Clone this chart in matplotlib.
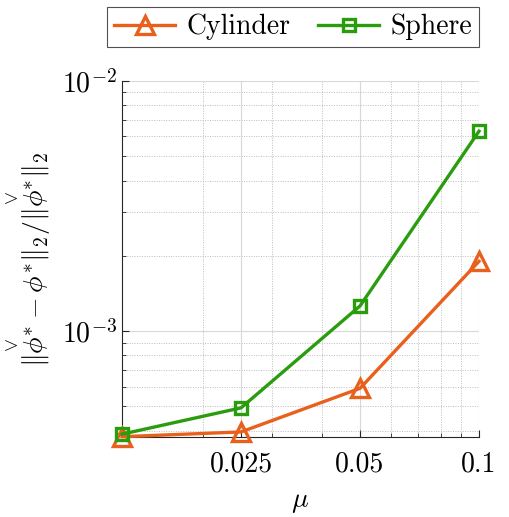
import numpy as np
import matplotlib
matplotlib.use("Agg")
import matplotlib.pyplot as plt
from matplotlib.ticker import FixedLocator, FixedFormatter, LogLocator, NullFormatter

plt.rcParams['font.family'] = 'serif'
plt.rcParams['font.serif'] = ['cmr10']
plt.rcParams['mathtext.fontset'] = 'cm'
plt.rcParams['axes.formatter.use_mathtext'] = True

# data
mu = [0.0125, 0.025, 0.05, 0.1]
cylinder = [3.78e-4, 3.95e-4, 5.9e-4, 1.9e-3]
sphere = [3.87e-4, 4.93e-4, 1.26e-3, 6.3e-3]
xticks = [0.025, 0.05, 0.1]
xtick_labels = ['0.025', '0.05', '0.1']

orange = '#E8601C'
green = '#2A9D0F'

fig = plt.figure(figsize=(5.1, 5.17), dpi=100)
ax = fig.add_axes([122 / 510, 1 - 437 / 517, 357 / 510, 356 / 517])

ax.plot(mu, cylinder, '-^', color=orange, lw=2.4, ms=13, mew=2.4,
        mfc='none', label='Cylinder', clip_on=False, zorder=3)
ax.plot(mu, sphere, '-s', color=green, lw=2.4, ms=9, mew=2.4,
        mfc='none', label='Sphere', clip_on=False, zorder=4)

ax.set_xscale('log')
ax.set_yscale('log')
ax.set_xlim(0.0125, 0.1)
ax.set_ylim(3.77e-4, 1e-2)

ax.xaxis.set_major_locator(FixedLocator(xticks))
ax.xaxis.set_major_formatter(FixedFormatter(xtick_labels))
ax.xaxis.set_minor_locator(FixedLocator([0.02, 0.03, 0.04, 0.06, 0.07, 0.08, 0.09]))
ax.xaxis.set_minor_formatter(NullFormatter())
ax.yaxis.set_major_locator(LogLocator(base=10, numticks=10))
ax.yaxis.set_minor_locator(LogLocator(base=10, subs=np.arange(2, 10), numticks=20))
ax.yaxis.set_minor_formatter(NullFormatter())

ax.grid(True, which='major', color='#d8d8d8', lw=0.8, ls='-')
ax.grid(True, which='minor', color='#bdbdbd', lw=0.7, ls=(0, (1, 1.5)))
ax.set_axisbelow(True)

for s in ['top', 'right']:
    ax.spines[s].set_visible(False)
for s in ['left', 'bottom']:
    ax.spines[s].set_color('#262626')
    ax.spines[s].set_linewidth(0.8)

ax.tick_params(which='both', direction='in', colors='#262626', labelsize=20,
               labelcolor='black')
ax.tick_params(which='major', length=5)
ax.tick_params(which='minor', length=3)
ax.tick_params(axis='x', pad=10)

ax.set_xlabel(r'$\mu$', fontsize=20, labelpad=8)
# \check is misplaced in mathtext's cm fontset, so build the accent by hand
chk = r'\overset{\vee}{\phi}'
ax.set_ylabel(r'$\Vert' + chk + r'^{*}-\phi^{*}\Vert_2/\Vert' + chk + r'^{*}\Vert_2$',
              fontsize=20, labelpad=6)

leg = fig.legend(loc='center', bbox_to_anchor=(293 / 510, 1 - 27 / 517), ncol=2,
                 fontsize=20, frameon=True, fancybox=False, edgecolor='#262626',
                 handlelength=2.2, columnspacing=1.0, handletextpad=0.4,
                 borderpad=0.25)
leg.get_frame().set_linewidth(0.8)

fig.savefig('out.png', dpi=100)
